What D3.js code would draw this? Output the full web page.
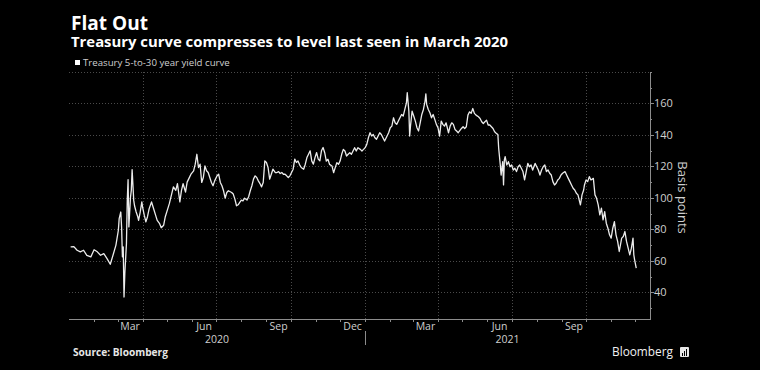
<!DOCTYPE html>
<html>
<head>
<meta charset="utf-8">
<script src="https://cdn.jsdelivr.net/npm/d3@7.9.0/dist/d3.min.js"></script>
<style>
  body { margin: 0; background: #000; }
  svg { display: block; font-family: "Open Sans", "Liberation Sans", Arial, sans-serif; }
</style>
</head>
<body>
<svg id="chart" width="760" height="370"></svg>
<script>
// Treasury 5s30s curve, basis points (~every 2 days)
const dates = [
  '2020-01-03','2020-01-07','2020-01-11','2020-01-15','2020-01-19','2020-01-23','2020-01-28',
  '2020-02-01','2020-02-05','2020-02-09','2020-02-13','2020-02-17','2020-02-21','2020-02-25','2020-02-28',
  '2020-03-02','2020-03-03','2020-03-05','2020-03-06','2020-03-07','2020-03-08','2020-03-09','2020-03-10','2020-03-12','2020-03-13','2020-03-14','2020-03-15','2020-03-17','2020-03-18','2020-03-19','2020-03-21','2020-03-22','2020-03-24','2020-03-26','2020-03-27','2020-03-29','2020-03-31',
  '2020-04-01','2020-04-03','2020-04-05','2020-04-07','2020-04-09','2020-04-12','2020-04-14','2020-04-17','2020-04-19','2020-04-22','2020-04-24','2020-04-27','2020-04-29',
  '2020-05-02','2020-05-04','2020-05-07','2020-05-09','2020-05-12','2020-05-14','2020-05-17','2020-05-19','2020-05-21','2020-05-24','2020-05-26','2020-05-29','2020-05-31',
  '2020-06-03','2020-06-05','2020-06-07','2020-06-09','2020-06-11','2020-06-13','2020-06-15','2020-06-17','2020-06-19','2020-06-21','2020-06-23','2020-06-25','2020-06-27','2020-06-29',
  '2020-07-02','2020-07-04','2020-07-06','2020-07-08','2020-07-10','2020-07-12','2020-07-14','2020-07-16','2020-07-20','2020-07-22','2020-07-24','2020-07-26','2020-07-28','2020-07-30',
  '2020-08-01','2020-08-03','2020-08-05','2020-08-08','2020-08-10','2020-08-12','2020-08-14','2020-08-16','2020-08-18','2020-08-20','2020-08-22','2020-08-24','2020-08-26','2020-08-28','2020-08-30',
  '2020-09-01','2020-09-03','2020-09-05','2020-09-07','2020-09-09','2020-09-12','2020-09-14','2020-09-16','2020-09-18','2020-09-20','2020-09-22','2020-09-24','2020-09-26','2020-09-28','2020-09-30',
  '2020-10-02','2020-10-04','2020-10-06','2020-10-08','2020-10-10','2020-10-12','2020-10-14','2020-10-17','2020-10-19','2020-10-21','2020-10-23','2020-10-25','2020-10-27','2020-10-29','2020-10-31',
  '2020-11-02','2020-11-04','2020-11-06','2020-11-08','2020-11-10','2020-11-12','2020-11-14','2020-11-16','2020-11-18','2020-11-21','2020-11-23','2020-11-25','2020-11-27','2020-11-29',
  '2020-12-01','2020-12-03','2020-12-05','2020-12-07','2020-12-09','2020-12-11','2020-12-13','2020-12-15','2020-12-17','2020-12-19','2020-12-21','2020-12-23','2020-12-26','2020-12-28','2020-12-30',
  '2021-01-01','2021-01-03','2021-01-05','2021-01-07','2021-01-09','2021-01-11','2021-01-13','2021-01-15','2021-01-17','2021-01-19','2021-01-21','2021-01-23','2021-01-25','2021-01-27','2021-01-30',
  '2021-02-01','2021-02-03','2021-02-05','2021-02-07','2021-02-09','2021-02-11','2021-02-13','2021-02-15','2021-02-17','2021-02-19','2021-02-21','2021-02-22','2021-02-24','2021-02-25','2021-02-26','2021-02-28',
  '2021-03-02','2021-03-04','2021-03-06','2021-03-08','2021-03-10','2021-03-12','2021-03-14','2021-03-16','2021-03-17','2021-03-18','2021-03-20','2021-03-22','2021-03-24','2021-03-26','2021-03-28','2021-03-30',
  '2021-04-01','2021-04-03','2021-04-05','2021-04-07','2021-04-09','2021-04-11','2021-04-14','2021-04-16','2021-04-18','2021-04-20','2021-04-22','2021-04-24','2021-04-26','2021-04-30',
  '2021-05-02','2021-05-04','2021-05-06','2021-05-08','2021-05-10','2021-05-12','2021-05-14','2021-05-16','2021-05-18','2021-05-21','2021-05-23','2021-05-25','2021-05-27','2021-05-29','2021-05-31',
  '2021-06-02','2021-06-04','2021-06-06','2021-06-08','2021-06-10','2021-06-12','2021-06-14','2021-06-15','2021-06-17','2021-06-18','2021-06-20','2021-06-21','2021-06-22','2021-06-23','2021-06-25','2021-06-27','2021-06-29',
  '2021-07-01','2021-07-03','2021-07-05','2021-07-07','2021-07-09','2021-07-11','2021-07-13','2021-07-15','2021-07-17','2021-07-19','2021-07-21','2021-07-23','2021-07-25','2021-07-27','2021-07-30',
  '2021-08-01','2021-08-03','2021-08-05','2021-08-07','2021-08-09','2021-08-11','2021-08-13','2021-08-15','2021-08-17','2021-08-19','2021-08-21','2021-08-23','2021-08-25','2021-08-27','2021-08-29','2021-08-31',
  '2021-09-02','2021-09-05','2021-09-07','2021-09-09','2021-09-11','2021-09-13','2021-09-15','2021-09-17','2021-09-19','2021-09-21','2021-09-23','2021-09-24','2021-09-26','2021-09-28','2021-09-29',
  '2021-10-01','2021-10-03','2021-10-05','2021-10-07','2021-10-10','2021-10-12','2021-10-14','2021-10-16','2021-10-18','2021-10-20','2021-10-22','2021-10-24','2021-10-26','2021-10-28','2021-10-30',
  '2021-11-01','2021-11-03','2021-11-05','2021-11-07','2021-11-09','2021-11-11','2021-11-14','2021-11-16','2021-11-18','2021-11-20','2021-11-22','2021-11-24','2021-11-26','2021-11-28','2021-11-29','2021-11-30',
  '2021-12-02'
];

const spread = [
  68.8,69,66.7,65.7,66.7,63.5,62.5,
  67,65.7,63.5,64.6,61.4,57.8,64.6,70,
  79.4,86.8,91,81.5,62.5,68.8,37,52,71,98.4,111.5,81.5,100.5,104.8,118,98.4,95,91,88,85.7,91,97.4,
  94,89,84.7,88,93,97.4,94,89,85.7,83.6,81,82.6,88,
  93,96.3,102.7,107,104.8,109,97.5,104.8,109,103.7,110,113.2,115.3,
  117.2,121.4,127.7,119.3,121.4,109.8,112.9,120.3,117.2,116.1,112.9,109.8,107.7,110.8,
  114,115,109.8,107.7,104.5,99.8,103.4,104.5,103.4,102.4,99.2,95,95.6,97.1,
  98.6,98.1,99.8,98.6,100.7,104.5,107.7,111.9,114,112.9,110.8,109.1,107,109.8,123.5,
  122.5,119.3,111.9,115,118.2,116.1,116.1,116.7,115.5,116.1,115,115,114,112.9,114,
  116.1,118.2,124.6,122.5,123.5,121,119.3,118.2,121.4,125.6,127.7,129.9,123.5,121.4,125.6,
  128.8,124.6,123.5,129.9,132,128.7,123.4,124.5,121.3,120.3,116,119.2,122.4,121.3,
  123.4,127.7,130.8,129.8,126.6,127.7,128.7,127.7,129.8,131.9,129.8,131.9,130.8,129.8,130.8,
  131.9,134,138.2,141.4,139.3,140.3,138.2,137.2,139.3,141.4,140.3,138.2,136.1,138.2,141.4,
  144.6,145.6,150.9,147.7,146.7,148.8,150.9,153,152,156.2,160.4,166.8,155.1,139.3,145.6,155.1,
  152,148.8,144.6,142.5,147.7,153,156.2,161.5,166.1,159.4,156.2,154.1,150.9,153,149.9,146.7,
  144.6,139.3,148.8,146.7,145.6,147.7,141.4,145.6,147.7,146.7,143.5,142.5,141.4,144.1,
  145.2,144.1,145.2,152.6,154.7,153.7,156.8,153.7,152.6,151.5,150.5,148.4,147.3,148.4,149.4,
  146.3,146.3,145.2,144.1,142,141,140.3,131.5,120.9,114.5,123,108.2,124.1,126.2,120.9,123,119.8,
  120.9,117.7,118.8,116.7,119.8,120.9,118.8,116.7,111.4,116.7,121.9,119.8,120.9,117.7,121.9,
  119.8,117.7,114.5,117.7,119.8,120.9,116.7,117.7,115.6,114.5,110.3,108.2,109.3,111.4,112.4,114.5,
  115.6,116.7,114.5,112.4,110.3,108.2,106.1,105,102.9,101.9,97.6,95.5,101.9,105,108.2,
  111.4,110.3,113.5,111.4,112.4,101.9,99.7,95.5,89.2,93.4,86,91.3,83.9,80.7,76.5,
  74.4,80.7,84.9,76.5,72.3,65.9,74.4,75.4,78.6,72.3,68,63.8,68,74.4,63.8,60.6,
  55.3
];

const yTicks = [40, 60, 80, 100, 120, 140, 160];
const monthLabels = ['Mar', 'Jun', 'Sep', 'Dec'];
const yearLabels = ['2020', '2021'];
const seriesName = 'Treasury 5-to-30 year yield curve';

if (dates.length !== spread.length) console.warn('length mismatch', dates.length, spread.length);

const plotLeft = 69, plotRight = 650, plotTop = 72, plotBottom = 319;
const parse = d3.timeParse('%Y-%m-%d');
const data = dates.map((d, i) => ({ date: parse(d), value: spread[i] }));

const start = parse('2020-01-01'), end = parse('2021-12-19');
const x = d3.scaleTime().domain([start, end]).range([plotLeft, plotRight]);
const y = d3.scaleLinear().domain([23, 180]).range([plotBottom, plotTop]);

const svg = d3.select('#chart');
svg.append('rect').attr('width', 760).attr('height', 370).attr('fill', '#000');

// grid
const grid = svg.append('g').attr('stroke', '#4a4a4a').attr('stroke-dasharray', '1,2').attr('stroke-width', 1);
grid.append('g').selectAll('line')
  .data(yTicks)
  .join('line')
  .attr('x1', plotLeft).attr('x2', plotRight)
  .attr('y1', d => Math.round(y(d)) + 0.5).attr('y2', d => Math.round(y(d)) + 0.5);
grid.append('line')
  .attr('x1', plotLeft).attr('x2', plotRight)
  .attr('y1', plotTop + 0.5).attr('y2', plotTop + 0.5);
grid.append('g').selectAll('line')
  .data(d3.timeMonth.every(3).range(d3.timeDay.offset(start, 1), end))
  .join('line')
  .attr('x1', d => Math.round(x(d)) + 0.5).attr('x2', d => Math.round(x(d)) + 0.5)
  .attr('y1', plotTop).attr('y2', plotBottom);

// the series
const line = d3.line().x(d => x(d.date)).y(d => y(d.value));
svg.append('path')
  .datum(data)
  .attr('fill', 'none')
  .attr('stroke', '#ececec')
  .attr('stroke-width', 1.3)
  .attr('stroke-linejoin', 'round')
  .attr('d', line);

// x axis
const axisColor = '#8c8c8c';
const labelColor = '#cfcfcf';
svg.append('line')
  .attr('x1', plotLeft).attr('x2', plotRight)
  .attr('y1', plotBottom + 0.5).attr('y2', plotBottom + 0.5)
  .attr('stroke', axisColor);
svg.append('g').selectAll('line')
  .data(d3.timeMonth.range(d3.timeDay.offset(start, 1), end))
  .join('line')
  .attr('x1', d => Math.round(x(d)) + 0.5).attr('x2', d => Math.round(x(d)) + 0.5)
  .attr('y1', plotBottom).attr('y2', plotBottom + 3)
  .attr('stroke', axisColor);

// month labels sit in the middle of whole months only
const fmtMonth = d3.timeFormat('%b');
const labelled = d3.timeMonth.range(start, end)
  .filter(m => monthLabels.includes(fmtMonth(m)) && d3.timeMonth.offset(m, 1) <= end);
svg.append('g').selectAll('text')
  .data(labelled)
  .join('text')
  .attr('x', d => (x(d) + x(d3.timeMonth.offset(d, 1))) / 2)
  .attr('y', plotBottom + 10.5)
  .attr('text-anchor', 'middle')
  .attr('font-size', 10.5)
  .attr('fill', labelColor)
  .text(d => fmtMonth(d));

svg.append('g').selectAll('text')
  .data(yearLabels)
  .join('text')
  .attr('x', d => {
    const a = d3.max([parse(d + '-01-01'), start]);
    const b = d3.min([parse((+d + 1) + '-01-01'), end]);
    return (x(a) + x(b)) / 2;
  })
  .attr('y', plotBottom + 24)
  .attr('text-anchor', 'middle')
  .attr('font-size', 10.5)
  .attr('fill', labelColor)
  .text(d => d);

svg.append('g').selectAll('line')
  .data(yearLabels.slice(1))
  .join('line')
  .attr('x1', d => Math.round(x(parse(d + '-01-01'))) + 0.5)
  .attr('x2', d => Math.round(x(parse(d + '-01-01'))) + 0.5)
  .attr('y1', plotBottom + 12).attr('y2', plotBottom + 26)
  .attr('stroke', axisColor);

// y axis on the right
svg.append('line')
  .attr('x1', plotRight + 0.5).attr('x2', plotRight + 0.5)
  .attr('y1', plotTop).attr('y2', plotBottom + 1)
  .attr('stroke', axisColor);
svg.append('g').selectAll('line')
  .data(y.ticks(16))
  .join('line')
  .attr('x1', plotRight).attr('x2', d => plotRight + (yTicks.includes(d) ? 4 : 2))
  .attr('y1', d => Math.round(y(d)) + 0.5).attr('y2', d => Math.round(y(d)) + 0.5)
  .attr('stroke', axisColor);
svg.append('g').selectAll('text')
  .data(yTicks)
  .join('text')
  .attr('x', plotRight + 4)
  .attr('y', d => y(d) + 4)
  .attr('font-size', 11)
  .attr('fill', labelColor)
  .text(d => d);
svg.append('text')
  .attr('transform', `translate(${plotRight + 28},${(plotTop + plotBottom) / 2 + 2}) rotate(90)`)
  .attr('text-anchor', 'middle')
  .attr('font-size', 13)
  .attr('fill', labelColor)
  .text('Basis points');

// headings, fitted to the widths in the reference
function fit(sel, width) {
  const w = sel.node().getComputedTextLength();
  const fs = +sel.attr('font-size');
  sel.attr('font-size', (fs * width / w).toFixed(2));
  return sel;
}
fit(svg.append('text').attr('x', 71).attr('y', 29.5).attr('font-size', 19)
  .attr('font-weight', 'bold').attr('fill', '#fff').text('Flat Out'), 77);
fit(svg.append('text').attr('x', 71).attr('y', 47).attr('font-size', 14)
  .attr('font-weight', 'bold').attr('fill', '#fff')
  .text('Treasury curve compresses to level last seen in March 2020'), 437);

svg.append('rect').attr('x', 75).attr('y', 60).attr('width', 5).attr('height', 5).attr('fill', '#fff');
fit(svg.append('text').attr('x', 83).attr('y', 66).attr('font-size', 10)
  .attr('fill', labelColor).text(seriesName), 147);

fit(svg.append('text').attr('x', 73).attr('y', 356).attr('font-size', 10)
  .attr('font-weight', 'bold').attr('fill', '#e6e6e6').text('Source: Bloomberg'), 95);
fit(svg.append('text').attr('x', 612).attr('y', 356).attr('font-size', 13)
  .attr('fill', '#f2f2f2').text('Bloomberg'), 61);

// small logo mark
const logo = svg.append('g').attr('transform', 'translate(680,347)');
logo.append('rect').attr('width', 9).attr('height', 10).attr('rx', 1).attr('fill', '#e6e6e6');
logo.selectAll('rect.bar')
  .data([3, 5, 7])
  .join('rect')
  .attr('x', (d, i) => 2 + i * 2).attr('y', d => 9 - d).attr('width', 1).attr('height', d => d)
  .attr('fill', '#000');
</script>
</body>
</html>
